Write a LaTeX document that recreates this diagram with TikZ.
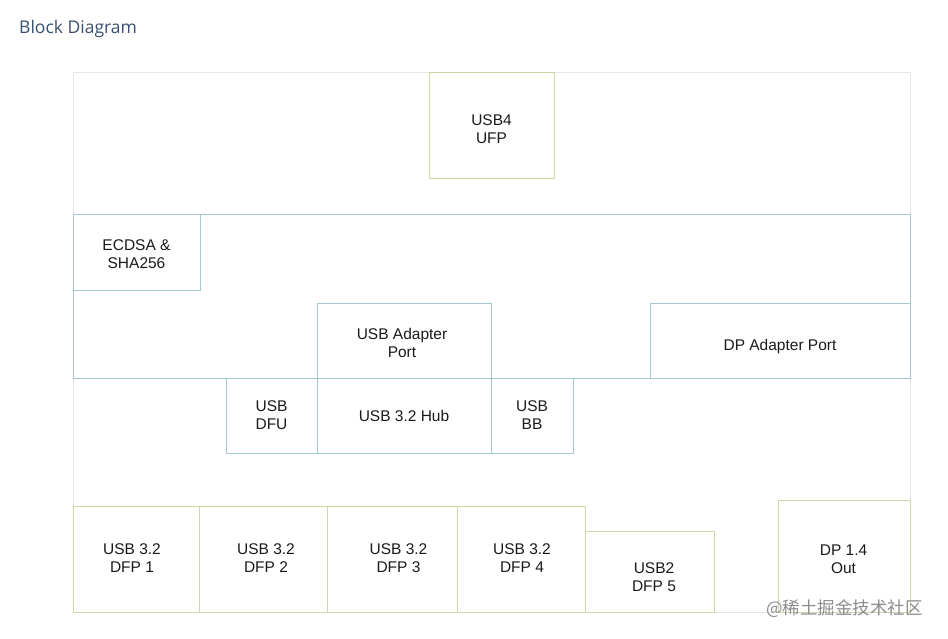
\documentclass[tikz,border=0pt]{standalone}
\usepackage{fontspec}
\setmainfont{Liberation Sans}
\newfontfamily\titlefont{Open Sans}
\newfontfamily\cjk{Noto Sans CJK SC}
\definecolor{tealb}{HTML}{A6C8CC}
\definecolor{oliveb}{HTML}{D4D4A4}
\definecolor{frameb}{HTML}{E6E6E6}
\definecolor{titlec}{HTML}{3A5070}
\definecolor{txt}{HTML}{1A1A1A}
\begin{document}
\begin{tikzpicture}[x=1pt,y=-1pt,
  lbl/.style={text=txt, font=\fontsize{15.5}{18}\selectfont, align=center, inner sep=0pt}]
\useasboundingbox (0,0) rectangle (948,639);
\fill[white] (0,0) rectangle (948,639);
% outer frame
\draw[frameb, line width=0.9pt] (73,72) rectangle (910,612);
% title
\node[anchor=west, inner sep=0pt, text=titlec, font=\titlefont\fontsize{17.5}{20}\selectfont] (title) at (19,29) {Block Diagram};
% USB4 UFP
\draw[oliveb, line width=0.9pt, fill=white] (429,72) rectangle (554,178);
\node[lbl] (ufp) at (491.5,129) {USB4\\UFP};
% big router block
\draw[tealb, line width=0.9pt] (73,214) rectangle (910,378);
% ECDSA
\draw[tealb, line width=0.9pt] (73,214) rectangle (200,290);
\node[lbl] (ecdsa) at (136.5,254) {ECDSA \&\\SHA256};
% USB adapter port
\draw[tealb, line width=0.9pt] (317,303) rectangle (491,378);
\node[lbl] (usbap) at (402,343) {USB Adapter\\Port};
% DP adapter port
\draw[tealb, line width=0.9pt] (650,303) rectangle (910,378);
\node[lbl] (dpap) at (780,346) {DP Adapter Port};
% hub row
\draw[tealb, line width=0.9pt] (226,378) rectangle (317,453);
\node[lbl] (dfu) at (271.5,415) {USB\\DFU};
\draw[tealb, line width=0.9pt] (317,378) rectangle (491,453);
\node[lbl] (hub) at (404,416) {USB 3.2 Hub};
\draw[tealb, line width=0.9pt] (491,378) rectangle (573,453);
\node[lbl] (bb) at (532,415) {USB\\BB};
% DFPs
\draw[oliveb, line width=0.9pt] (73,506) rectangle (199,612);
\node[lbl] (dfp1) at (132,558) {USB 3.2\\DFP 1};
\draw[oliveb, line width=0.9pt] (199,506) rectangle (327,612);
\node[lbl] (dfp2) at (266,558) {USB 3.2\\DFP 2};
\draw[oliveb, line width=0.9pt] (327,506) rectangle (457,612);
\node[lbl] (dfp3) at (398.5,558) {USB 3.2\\DFP 3};
\draw[oliveb, line width=0.9pt] (457,506) rectangle (585,612);
\node[lbl] (dfp4) at (522,558) {USB 3.2\\DFP 4};
\draw[oliveb, line width=0.9pt] (585,531) rectangle (714,612);
\node[lbl] (dfp5) at (654,577) {USB2\\DFP 5};
\draw[oliveb, line width=0.9pt] (778,500) rectangle (910,612);
\node[lbl] (dpout) at (843.5,559) {DP 1.4\\Out};
% watermark
\node[anchor=west, inner sep=0pt, text=black!45, font=\cjk\fontsize{17.5}{20}\selectfont] (wm) at (766,609) {@稀土掘金技术社区};
\end{tikzpicture}
\end{document}
